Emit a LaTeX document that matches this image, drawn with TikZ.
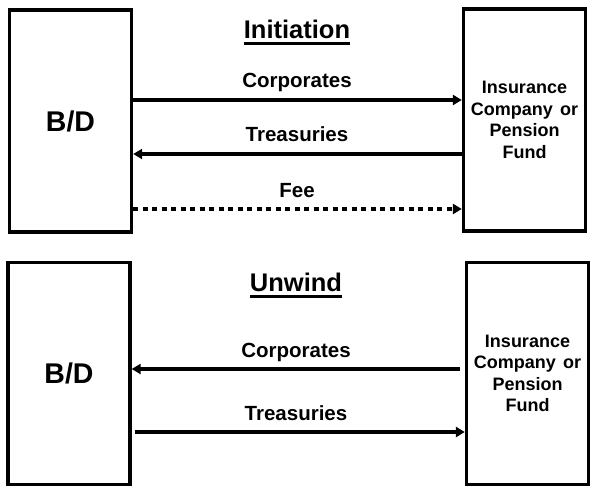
\documentclass[tikz,border=0pt]{standalone}
\usepackage{fontspec}
\setmainfont{Liberation Sans}
\usepackage{tikz}
\usetikzlibrary{arrows.meta,positioning}

\begin{document}
\begin{tikzpicture}[x=1pt,y=-1pt,
  partei/.style={draw,line width=3.3pt,minimum width=122pt,minimum height=222pt,inner sep=0pt,align=center,font=\fontsize{18}{21.5}\selectfont\bfseries},
  bd/.style={partei,font=\fontsize{28.5}{30}\selectfont\bfseries},
  titel/.style={anchor=base,inner sep=0pt,font=\fontsize{25.5}{27}\selectfont\bfseries},
  lab/.style={anchor=base,inner sep=0pt,font=\fontsize{20.5}{22}\selectfont\bfseries},
  fluss/.style={line width=3.2pt,-{Triangle[length=9pt,width=10pt]}}]
%Koordinaten wie im Bild: x nach rechts, y nach unten, 1pt = 1 Pixel
\useasboundingbox (0,0) rectangle (591,489);
%Initiation
\node[bd] (bdA) at (70.5,121) {B/D};
\node[partei] (insA) at (524.5,120) {Insurance\\Company\hspace{0.12em} or\\Pension\\Fund};
\node[titel] (initT) at (297,38.5) {Initiation};
\node[lab] (corpA) at (297,88) {Corporates};
\node[lab] (treasA) at (297,142) {Treasuries};
\node[lab] (feeA) at (297,197) {Fee};
\draw[fluss] ([yshift=21pt]bdA.east) -- ([yshift=20pt]insA.west);
\draw[fluss] ([yshift=-34pt]insA.west) -- ([yshift=-33pt]bdA.east);
\draw[fluss,dash pattern=on 5pt off 4.5pt] ([yshift=-88pt]bdA.east) -- ([yshift=-89pt]insA.west);
%Unwind
\node[bd] (bdB) at (69,373.5) {B/D};
\node[partei] (insB) at (527.5,373.5) {Insurance\\Company\hspace{0.12em} or\\Pension\\Fund};
\node[titel] (unwT) at (296,291.5) {Unwind};
\node[lab] (corpB) at (296,357) {Corporates};
\node[lab] (treasB) at (296,420) {Treasuries};
\draw[fluss,shorten <=5pt] ([yshift=4.5pt]insB.west) -- ([yshift=4.5pt]bdB.east);
\draw[fluss,shorten <=3pt] ([yshift=-58.5pt]bdB.east) -- ([yshift=-58.5pt]insB.west);
%Unterstreichen
\foreach \t in {initT,unwT}{
\draw[line width=2.2pt] ([yshift=-5pt]\t.base west) -- ([yshift=-5pt]\t.base east);
}
\end{tikzpicture}
\end{document}
